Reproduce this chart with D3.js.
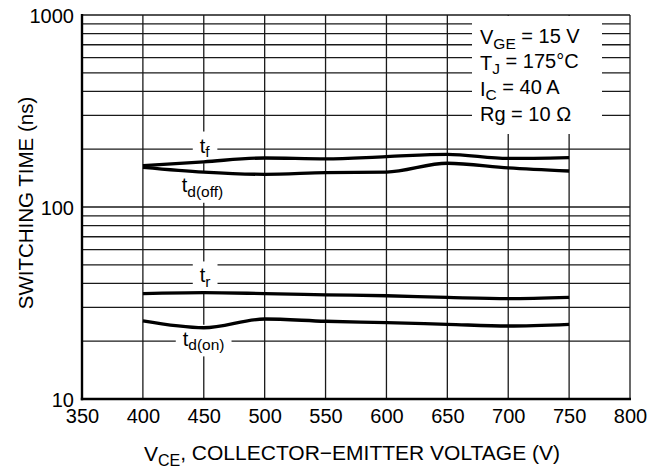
<!DOCTYPE html>
<html>
<head>
<meta charset="utf-8">
<script src="https://cdn.jsdelivr.net/npm/d3@7"></script>
<style>
  body { margin: 0; background: #fff; }
  svg { display: block; font-family: "Liberation Sans", Arial, sans-serif; }
  text { fill: #000; }
</style>
</head>
<body>
<svg id="chart" width="649" height="470"></svg>
<script>
// collector-emitter voltage (V)
const vce = [400, 450, 500, 550, 600, 650, 700, 750];

// switching times (ns)
const tf = [164, 172, 180, 178, 183, 188, 179, 181];
const tdOff = [161, 152, 148, 151, 152, 169, 160, 154];
const tr = [35.4, 35.8, 35.4, 34.9, 34.5, 33.8, 33.3, 33.8];
const tdOn = [25.5, 23.5, 26.1, 25.4, 25.0, 24.5, 24.0, 24.5];

const xTicks = [350, 400, 450, 500, 550, 600, 650, 700, 750, 800];
const yTicks = [10, 100, 1000];

const legendLines = [
    ["V", "GE", " = 15 V"],
    ["T", "J", " = 175\u00B0C"],
    ["I", "C", " = 40 A"],
    ["Rg = 10 \u03A9", "", ""],
];

const svg = d3.select("#chart");

const x = d3.scaleLinear().domain([350, 800]).range([82, 630]);
const y = d3.scaleLog().domain([10, 1000]).range([399, 15]);

// grid
const gridG = svg.append("g").attr("stroke", "#1a1a1a").attr("stroke-width", 1.3);

gridG.selectAll("line.v")
    .data(xTicks.slice(1))
    .enter()
    .append("line")
    .attr("x1", d => x(d)).attr("x2", d => x(d))
    .attr("y1", y(1000)).attr("y2", y(10));

const hLines = [];
[10, 100].forEach(function (dec) {
    for (let m = 2; m <= 10; m++) hLines.push(dec * m);
});

gridG.selectAll("line.h")
    .data(hLines)
    .enter()
    .append("line")
    .attr("x1", x(350)).attr("x2", x(800))
    .attr("y1", d => y(d)).attr("y2", d => y(d));

// knockout behind the conditions box
const knock = svg.append("g").attr("fill", "#fff");
knock.append("rect")
    .attr("x", 472).attr("y", y(1000) + 1)
    .attr("width", 130).attr("height", 118);

// curve labels, with white patches behind them
const labelG = svg.append("g").style("font-size", "20px");
const curveLabels = [
    { sub: "f", v: 450, t: 209, dx: -4 },
    { sub: "d(off)", v: 450, t: 130, dx: -22 },
    { sub: "r", v: 450, t: 44, dx: -4 },
    { sub: "d(on)", v: 450, t: 20.6, dx: -21 },
];

curveLabels.forEach(function (d) {
    const t = labelG.append("text")
        .attr("x", x(d.v) + d.dx)
        .attr("y", y(d.t) + 7);
    t.append("tspan").text("t");
    t.append("tspan")
        .attr("dy", "0.3em")
        .style("font-size", "15.5px")
        .text(d.sub);
    const bb = t.node().getBBox();
    knock.append("rect")
        .attr("x", bb.x - 7)
        .attr("y", bb.y - 3)
        .attr("width", bb.width + 14)
        .attr("height", bb.height + 6);
});

// curves
const line = d3.line()
    .x((d, i) => x(vce[i]))
    .y(d => y(d))
    .curve(d3.curveMonotoneX);

svg.append("g")
    .attr("fill", "none")
    .attr("stroke", "#000")
    .attr("stroke-width", 3.3)
    .attr("stroke-linecap", "butt")
    .selectAll("path")
    .data([tf, tdOff, tr, tdOn])
    .enter()
    .append("path")
    .attr("d", line);

// axes
const xAxis = svg.append("g")
    .attr("transform", "translate(0," + y(10) + ")")
    .call(d3.axisBottom(x).tickValues(xTicks).tickSize(0).tickPadding(10));
xAxis.select(".domain").remove();
xAxis.selectAll("text").style("font-size", "20px").attr("fill", "#000")
    .style("font-family", "Liberation Sans, Arial, sans-serif");

const yAxis = svg.append("g")
    .attr("transform", "translate(" + x(350) + ",0)")
    .call(d3.axisLeft(y).tickValues(yTicks).tickFormat(d3.format("d")).tickSize(0).tickPadding(8));
yAxis.select(".domain").remove();
yAxis.selectAll("text").style("font-size", "20px").attr("fill", "#000")
    .attr("dy", "0.38em")
    .style("font-family", "Liberation Sans, Arial, sans-serif");

// heavy left and bottom frame
svg.append("line")
    .attr("x1", x(350)).attr("x2", x(350))
    .attr("y1", y(1000) - 1).attr("y2", y(10) + 1.2)
    .attr("stroke", "#000").attr("stroke-width", 2.4);
svg.append("line")
    .attr("x1", x(350) - 1.2).attr("x2", x(800) + 1)
    .attr("y1", y(10)).attr("y2", y(10))
    .attr("stroke", "#000").attr("stroke-width", 2.4);

// conditions
const legG = svg.append("g").style("font-size", "20px");
legendLines.forEach(function (l, i) {
    const t = legG.append("text").attr("x", 480).attr("y", 44 + i * 25.8);
    t.append("tspan").text(l[0]);
    if (l[1]) {
        t.append("tspan").attr("dy", "0.3em").style("font-size", "15.5px").text(l[1]);
        t.append("tspan").attr("dy", "-0.3em").text(l[2]);
    }
});

// axis titles
const xTitle = svg.append("text")
    .attr("x", 352).attr("y", 461)
    .attr("text-anchor", "middle")
    .style("font-size", "21px");
xTitle.append("tspan").text("V");
xTitle.append("tspan").attr("dy", "0.3em").style("font-size", "16px").text("CE");
xTitle.append("tspan").attr("dy", "-0.3em").text(", COLLECTOR\u2212EMITTER VOLTAGE (V)");

svg.append("text")
    .attr("transform", "translate(33,203) rotate(-90)")
    .attr("text-anchor", "middle")
    .style("font-size", "20.5px")
    .text("SWITCHING TIME (ns)");
</script>
</body>
</html>
